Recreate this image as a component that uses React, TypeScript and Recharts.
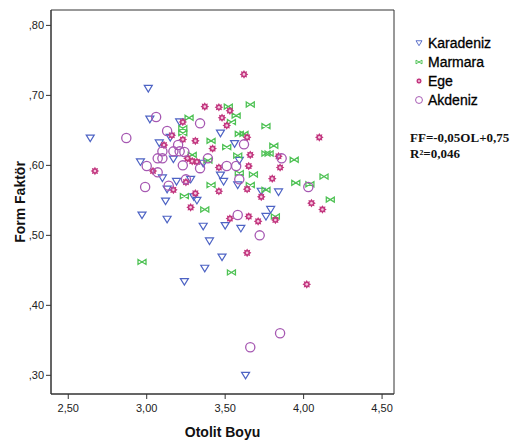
import React from "react";
import {
  ScatterChart,
  Scatter,
  XAxis,
  YAxis,
  ReferenceArea,
} from "recharts";

// [Otolit Boyu, Form Faktör] pairs
const karadeniz: [number, number][] = [
  [2.64, 0.639], [3.01, 0.71], [3.02, 0.666], [3.21, 0.662], [3.15, 0.64],
  [3.08, 0.632], [2.96, 0.605], [3.17, 0.609], [3.36, 0.603], [3.1, 0.582],
  [3.19, 0.577], [3.13, 0.566], [3.12, 0.549], [2.97, 0.529], [3.13, 0.523],
  [3.24, 0.434], [3.32, 0.55], [3.36, 0.513], [3.4, 0.492], [3.48, 0.469],
  [3.37, 0.453], [3.5, 0.514], [3.6, 0.51], [3.76, 0.527], [3.79, 0.537],
  [3.84, 0.562], [3.73, 0.563], [3.63, 0.3], [3.47, 0.646], [3.56, 0.631],
  [3.59, 0.607], [3.47, 0.586], [3.49, 0.577], [3.58, 0.572], [3.28, 0.58],
  [3.3, 0.555],
];

const marmara: [number, number][] = [
  [2.97, 0.462], [3.27, 0.668], [3.23, 0.653], [3.23, 0.646], [3.29, 0.615],
  [3.39, 0.607], [3.24, 0.556], [3.37, 0.537], [3.54, 0.447], [3.52, 0.684],
  [3.66, 0.687], [3.57, 0.671], [3.54, 0.662], [3.76, 0.656], [3.59, 0.645],
  [3.62, 0.645], [3.41, 0.635], [3.51, 0.626], [3.81, 0.628], [3.76, 0.617],
  [3.78, 0.617], [3.94, 0.608], [3.58, 0.614], [3.59, 0.589], [3.68, 0.587],
  [3.41, 0.572], [3.66, 0.572], [3.76, 0.565], [3.95, 0.575], [3.82, 0.527],
  [4.13, 0.584], [4.17, 0.551], [4.04, 0.573],
];

const ege: [number, number][] = [
  [2.67, 0.592], [3.04, 0.592], [3.11, 0.629], [3.16, 0.643], [3.23, 0.662],
  [3.23, 0.637], [3.26, 0.61], [3.29, 0.606], [3.32, 0.605], [3.31, 0.635],
  [3.37, 0.684], [3.46, 0.683], [3.53, 0.678], [3.48, 0.668], [3.51, 0.657],
  [3.42, 0.624], [3.64, 0.64], [4.1, 0.64], [3.66, 0.615], [3.84, 0.613],
  [3.85, 0.597], [3.65, 0.599], [3.46, 0.597], [3.8, 0.581], [3.46, 0.563],
  [3.31, 0.56], [3.64, 0.566], [3.73, 0.555], [4.05, 0.546], [4.12, 0.537],
  [3.28, 0.54], [3.53, 0.524], [3.65, 0.527], [3.71, 0.52], [3.82, 0.522],
  [3.64, 0.475], [4.02, 0.43], [3.62, 0.73], [3.25, 0.576], [3.17, 0.565],
];

const akdeniz: [number, number][] = [
  [2.87, 0.639], [3.06, 0.669], [3.13, 0.649], [3.34, 0.66], [3.2, 0.629],
  [3.1, 0.62], [3.17, 0.62], [3.21, 0.62], [3.24, 0.619], [3.07, 0.61],
  [3.1, 0.61], [3.0, 0.599], [3.23, 0.6], [3.07, 0.59], [2.99, 0.569],
  [3.14, 0.571], [3.34, 0.596], [3.39, 0.61], [3.62, 0.63], [3.51, 0.599],
  [3.57, 0.599], [3.59, 0.58], [3.86, 0.61], [4.03, 0.569], [3.58, 0.529],
  [3.72, 0.5], [3.66, 0.34], [3.85, 0.36], [3.25, 0.58],
];

const xTicks = [2.5, 3.0, 3.5, 4.0, 4.5];
const yTicks = [0.3, 0.4, 0.5, 0.6, 0.7, 0.8];
const xDomain: [number, number] = [2.39, 4.576];
const yDomain: [number, number] = [0.2733, 0.822];

const legendNames = ["Karadeniz", "Marmara", "Ege", "Akdeniz"];
const fitLines = ["FF=-0,05OL+0,75", "R²=0,046"];

const toPoints = (arr: [number, number][]) => arr.map(([x, y]) => ({ x, y }));

const BLUE = "#4d63c4";
const GREEN = "#4fc255";
const MAGENTA = "#c2377f";
const PURPLE = "#a658b2";

const Tri = ({ cx, cy }: any) => (
  <path
    d={`M${cx - 4},${cy - 3} L${cx + 4},${cy - 3} L${cx},${cy + 3.6} Z`}
    fill="none"
    stroke={BLUE}
    strokeWidth={1.2}
  />
);

const Bow = ({ cx, cy }: any) => (
  <path
    d={`M${cx - 4},${cy - 2.5} L${cx + 4},${cy + 2.5} L${cx + 4},${cy - 2.5} L${cx - 4},${cy + 2.5} Z`}
    fill="none"
    stroke={GREEN}
    strokeWidth={1.3}
  />
);

const Star = ({ cx, cy }: any) => {
  const pts: string[] = [];
  for (let i = 0; i < 16; i++) {
    const r = i % 2 === 0 ? 4.3 : 2.8;
    const a = (Math.PI * i) / 8;
    pts.push(`${cx + r * Math.cos(a)},${cy + r * Math.sin(a)}`);
  }
  return (
    <g>
      <polygon points={pts.join(" ")} fill={MAGENTA} />
      <circle cx={cx} cy={cy} r={1.3} fill="#f7c8e0" />
    </g>
  );
};

const Ring = ({ cx, cy }: any) => (
  <circle cx={cx} cy={cy} r={4.6} fill="none" stroke={PURPLE} strokeWidth={1.3} />
);

const shapes = [Tri, Bow, Star, Ring];

const fmtX = (v: number) => v.toFixed(2).replace(".", ",");
const fmtY = (v: number) => v.toFixed(2).replace("0.", ",");

export default function App() {
  return (
    <div
      style={{
        position: "absolute",
        left: 0,
        top: 0,
        width: 514,
        height: 446,
        background: "#fff",
        fontFamily: "'Liberation Sans', Arial, sans-serif",
      }}
    >
      <ScatterChart
        width={514}
        height={446}
        margin={{ top: 10, right: 120, bottom: 22, left: 6 }}
      >
        <XAxis
          type="number"
          dataKey="x"
          domain={xDomain}
          ticks={xTicks}
          allowDataOverflow
          tickFormatter={fmtX}
          height={30}
          tickSize={5}
          tickMargin={5}
          axisLine={{ stroke: "#333" }}
          tickLine={{ stroke: "#333" }}
          tick={{ fill: "#222", fontSize: 11 }}
          label={{
            value: "Otolit Boyu",
            position: "insideBottom",
            offset: -13,
            style: { fontWeight: "bold", fontSize: 14, fill: "#111" },
          }}
        />
        <YAxis
          type="number"
          dataKey="y"
          domain={yDomain}
          ticks={yTicks}
          allowDataOverflow
          tickFormatter={fmtY}
          width={45}
          tickSize={5}
          axisLine={{ stroke: "#333" }}
          tickLine={{ stroke: "#333" }}
          tick={{ fill: "#222", fontSize: 11 }}
          label={{
            value: "Form Faktör",
            angle: -90,
            position: "insideLeft",
            offset: 14,
            style: {
              fontWeight: "bold",
              fontSize: 14,
              fill: "#111",
              textAnchor: "middle",
            },
          }}
        />
        <ReferenceArea
          x1={xDomain[0]}
          x2={xDomain[1]}
          y1={yDomain[0]}
          y2={yDomain[1]}
          fill="none"
          stroke="#333"
          strokeWidth={1}
          ifOverflow="visible"
        />
        {[karadeniz, marmara, ege, akdeniz].map((s, i) => (
          <Scatter
            key={legendNames[i]}
            name={legendNames[i]}
            data={toPoints(s)}
            shape={shapes[i]}
            isAnimationActive={false}
          />
        ))}
      </ScatterChart>
      <svg
        width={514}
        height={446}
        style={{ position: "absolute", left: 0, top: 0, pointerEvents: "none" }}
      >
        {legendNames.map((name, i) => {
          const Shape = shapes[i];
          const cy = 43 + i * 19;
          return (
            <g key={name}>
              <g transform={`translate(419 ${cy}) scale(0.75) translate(-419 ${-cy})`}>
                <Shape cx={419} cy={cy} />
              </g>
              <text
                x={428}
                y={cy + 5}
                fontSize={14}
                fill="#000"
                stroke="#000"
                strokeWidth={0.3}
              >
                {name}
              </text>
            </g>
          );
        })}
        {fitLines.map((t, i) => (
          <text
            key={t}
            x={410}
            y={142 + i * 16}
            fontSize={13}
            fontWeight="bold"
            fontFamily="'Liberation Serif', 'Times New Roman', serif"
            fill="#111"
          >
            {t}
          </text>
        ))}
      </svg>
    </div>
  );
}
